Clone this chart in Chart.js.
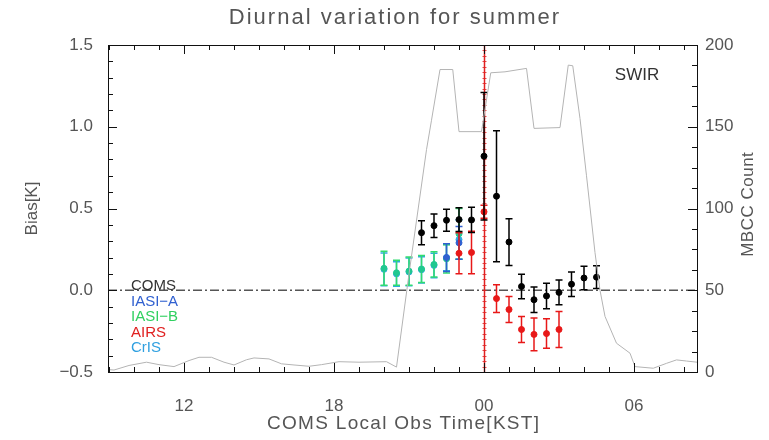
<!DOCTYPE html>
<html>
<head>
<meta charset="utf-8">
<script src="https://cdn.jsdelivr.net/npm/chart.js@4.4.1/dist/chart.umd.min.js"></script>
<style>
html, body { margin: 0; padding: 0; background: #fff; }
</style>
</head>
<body>
<canvas id="chart" width="769" height="440"></canvas>
<script>
// tick labels
const xTickHours = [12, 18, 24, 30];
const xTickLabels = ['12', '18', '00', '06'];
const biasTicks = [-0.5, 0, 0.5, 1.0, 1.5];
const biasTickLabels = ['\u22120.5', '0.0', '0.5', '1.0', '1.5'];
const countTicks = [0, 50, 100, 150, 200];

// series (hour of day, 24 = 00 KST)
const seriesNames = ['COMS', 'IASI\u2212A', 'IASI\u2212B', 'AIRS', 'CrIS'];

const comsHours = [21.5, 22, 22.5, 23, 23.5, 24, 24.5, 25, 25.5, 26, 26.5, 27, 27.5, 28, 28.5];
const comsBias  = [0.352, 0.395, 0.428, 0.432, 0.43, 0.82, 0.575, 0.295, 0.023, -0.058, -0.035, -0.013, 0.037, 0.075, 0.08];
const comsErr   = [0.073, 0.072, 0.067, 0.072, 0.077, 0.39, 0.40, 0.143, 0.075, 0.078, 0.078, 0.076, 0.075, 0.072, 0.07];

const iasiAHours = [22.5, 23];
const iasiABias  = [0.20, 0.29];
const iasiAErr   = [0.085, 0.10];

const iasiBHours = [20, 20.5, 21, 21.5, 22, 22.5, 23];
const iasiBBias  = [0.134, 0.107, 0.117, 0.13, 0.158, 0.192, 0.345];
const iasiBErr   = [0.104, 0.077, 0.087, 0.082, 0.077, 0.087, 0.155];

const airsHours = [23, 23.5, 24, 24.5, 25, 25.5, 26, 26.5, 27];
const airsBias  = [0.226, 0.231, 0.48, -0.051, -0.118, -0.24, -0.27, -0.265, -0.24];
const airsErr   = [0.125, 0.13, 0.04, 0.085, 0.08, 0.08, 0.10, 0.09, 0.11];

const crisHours = [20, 20.5, 21, 21.5, 22, 22.5, 23];
const crisBias  = [0.128, 0.10, 0.112, 0.125, 0.152, 0.20, 0.31];
const crisErr   = [0.10, 0.075, 0.085, 0.08, 0.075, 0.08, 0.12];

// MBCC count (right axis)
const mbccHours = [8.96, 9.2, 9.8, 10.5, 11.0, 11.6, 12.2, 12.6, 13.1, 13.6, 14.0, 14.5, 14.8, 15.4, 15.9, 16.4, 17.0, 17.5, 18.2, 19.0, 20.1, 20.5, 21.0, 21.7, 21.9, 22.24, 22.75, 23.0, 23.9, 24.27, 24.84, 25.7, 26.0, 27.04, 27.37, 27.55, 27.84, 28.1, 28.44, 28.64, 28.84, 29.3, 29.84, 30.04, 30.77, 31.3, 31.7, 32.1, 32.52];
const mbccCount = [1.5, 1.2, 4, 6, 4.5, 3.3, 7, 9, 9, 6, 4.3, 7.5, 8.6, 8, 5, 4.3, 3.5, 4.5, 6.3, 6, 6.3, 3, 60, 136, 154, 185, 185, 147, 147, 183, 183.6, 185.7, 149, 149.5, 187.7, 187.3, 155, 120, 73, 50, 34, 17.6, 11.5, 3.3, 2.3, 5.3, 7.4, 6.7, 6];

const FONT = '"Liberation Sans", Arial, sans-serif';
const GREY = '#555';

function pts(xs, ys) {
    return xs.map((h, i) => ({x: h, y: ys[i]}));
}

function biasSet(name, hours, bias, err, color, pointColor) {
    return {
        label: name,
        data: pts(hours, bias),
        err: err,
        showLine: false,
        pointRadius: 3,
        pointBackgroundColor: pointColor || color,
        pointBorderColor: pointColor || color,
        borderColor: color,
        yAxisID: 'y'
    };
}

// error bars, drawn just before the points of each dataset
const errorBars = {
    id: 'errorBars',
    beforeDatasetDraw(chart, args) {
        const ds = chart.data.datasets[args.index];
        if (!ds.err) return;
        const ctx = chart.ctx;
        const xs = chart.scales.x, ys = chart.scales.y;
        ctx.save();
        ctx.strokeStyle = ds.borderColor;
        ctx.lineWidth = 1.5;
        ds.data.forEach((p, i) => {
            const x = xs.getPixelForValue(p.x);
            const y1 = ys.getPixelForValue(p.y - ds.err[i]);
            const y2 = ys.getPixelForValue(p.y + ds.err[i]);
            ctx.beginPath();
            ctx.moveTo(x, y1); ctx.lineTo(x, y2);
            ctx.moveTo(x - 3.5, y1); ctx.lineTo(x + 3.5, y1);
            ctx.moveTo(x - 3.5, y2); ctx.lineTo(x + 3.5, y2);
            ctx.stroke();
        });
        ctx.restore();
    }
};

function spacedText(ctx, text, x, y, size, spacing) {
    ctx.font = size + 'px ' + FONT;
    if ('letterSpacing' in ctx) {
        ctx.letterSpacing = spacing + 'px';
        x += spacing / 2;
    }
    ctx.fillText(text, x, y);
    if ('letterSpacing' in ctx) ctx.letterSpacing = '0px';
}

const decor = {
    id: 'decor',
    beforeDatasetsDraw(chart) {
        const ctx = chart.ctx, a = chart.chartArea;
        const xs = chart.scales.x, ys = chart.scales.y;
        ctx.save();
        // zero line
        const y0 = ys.getPixelForValue(0);
        ctx.strokeStyle = '#555';
        ctx.lineWidth = 1.3;
        ctx.setLineDash([9, 3, 2, 3]);
        ctx.beginPath(); ctx.moveTo(a.left, y0); ctx.lineTo(a.right, y0); ctx.stroke();
        ctx.setLineDash([]);
        // midnight line with hatch marks
        const xm = Math.round(xs.getPixelForValue(24)) + 0.5;
        ctx.strokeStyle = '#e02020';
        ctx.lineWidth = 1.5;
        ctx.beginPath(); ctx.moveTo(xm, a.top); ctx.lineTo(xm, a.bottom); ctx.stroke();
        ctx.lineWidth = 0.8;
        ctx.beginPath();
        for (let v = -0.5; v <= 1.5; v += 1 / 30) {
            const y = Math.round(ys.getPixelForValue(v)) + 0.5;
            ctx.moveTo(xm - 2, y); ctx.lineTo(xm + 2, y);
        }
        ctx.stroke();
        ctx.restore();
    },
    afterDraw(chart) {
        const ctx = chart.ctx, a = chart.chartArea;
        const xs = chart.scales.x, ys = chart.scales.y, yr = chart.scales.y1;
        ctx.save();
        ctx.strokeStyle = '#111';
        ctx.lineWidth = 1;
        ctx.strokeRect(Math.round(a.left) + 0.5, Math.round(a.top) + 0.5,
            Math.round(a.right - a.left), Math.round(a.bottom - a.top));
        ctx.beginPath();
        // hour ticks top and bottom
        for (let h = 9; h <= 32; h++) {
            const x = Math.round(xs.getPixelForValue(h)) + 0.5;
            const len = h % 6 === 0 ? 9 : 5;
            ctx.moveTo(x, a.bottom); ctx.lineTo(x, a.bottom - len);
            ctx.moveTo(x, a.top); ctx.lineTo(x, a.top + len);
        }
        // bias ticks
        for (let k = -5; k <= 15; k++) {
            const y = Math.round(ys.getPixelForValue(k / 10)) + 0.5;
            const len = k % 5 === 0 ? 9 : 5;
            ctx.moveTo(a.left, y); ctx.lineTo(a.left + len, y);
        }
        // count ticks
        for (let c = 0; c <= 200; c += 12.5) {
            const y = Math.round(yr.getPixelForValue(c)) + 0.5;
            const len = c % 50 === 0 ? 9 : 5;
            ctx.moveTo(a.right, y); ctx.lineTo(a.right - len, y);
        }
        ctx.stroke();

        ctx.fillStyle = GREY;
        ctx.textAlign = 'center';
        ctx.textBaseline = 'middle';
        // main title and x axis title
        spacedText(ctx, 'Diurnal variation for summer', 394, 18, 22, 2);
        spacedText(ctx, 'COMS Local Obs Time[KST]', 403, 424, 19, 1.3);

        // right axis title, reading upwards
        ctx.translate(748, (a.top + a.bottom) / 2 - 4);
        ctx.rotate(-Math.PI / 2);
        spacedText(ctx, 'MBCC Count', 0, 0, 17, 0.5);
        ctx.restore();

        ctx.save();
        ctx.font = '17px ' + FONT;
        ctx.fillStyle = '#333';
        ctx.textAlign = 'center';
        ctx.textBaseline = 'middle';
        ctx.fillText('SWIR', 637, 75);
        // legend
        const legendColors = ['#333', '#3060d0', '#30d060', '#e02020', '#30a0e0'];
        ctx.font = '15px ' + FONT;
        ctx.textAlign = 'left';
        seriesNames.forEach((n, i) => {
            ctx.fillStyle = legendColors[i];
            ctx.fillText(n, 131, 286 + i * 15.5);
        });
        ctx.restore();
    }
};

new Chart(document.getElementById('chart'), {
    type: 'line',
    data: {
        datasets: [
            {
                label: 'MBCC Count',
                data: pts(mbccHours, mbccCount),
                borderColor: '#b4b4b4',
                borderWidth: 1,
                pointRadius: 0,
                yAxisID: 'y1'
            },
            biasSet(seriesNames[0], comsHours, comsBias, comsErr, '#000000'),
            biasSet(seriesNames[3], airsHours, airsBias, airsErr, '#e81818'),
            biasSet(seriesNames[1], iasiAHours, iasiABias, iasiAErr, '#3060d0'),
            biasSet(seriesNames[2], iasiBHours, iasiBBias, iasiBErr, '#30dc70', '#20c890'),
            biasSet(seriesNames[4], crisHours, crisBias, crisErr, '#30a8e0')
        ]
    },
    options: {
        responsive: false,
        animation: false,
        layout: { padding: { left: 22, right: 0, top: 45, bottom: 5 } },
        plugins: {
            legend: { display: false },
            tooltip: { enabled: false },
            title: { display: false }
        },
        scales: {
            x: {
                type: 'linear',
                min: 8.96,
                max: 32.52,
                grid: { display: false },
                border: { display: false },
                afterBuildTicks: s => { s.ticks = xTickHours.map(v => ({value: v})); },
                ticks: {
                    color: GREY,
                    font: { family: FONT, size: 17 },
                    padding: 16,
                    maxRotation: 0,
                    callback: (v, i) => xTickLabels[i]
                },
                afterFit: s => { s.height = 63; }
            },
            y: {
                position: 'left',
                min: -0.5,
                max: 1.5,
                grid: { display: false },
                border: { display: false },
                afterBuildTicks: s => { s.ticks = biasTicks.map(v => ({value: v})); },
                ticks: {
                    color: GREY,
                    font: { family: FONT, size: 17 },
                    padding: 7,
                    callback: (v, i) => biasTickLabels[i]
                },
                title: {
                    display: true,
                    text: 'Bias[K]',
                    color: GREY,
                    font: { family: FONT, size: 17 },
                    padding: 0
                },
                afterFit: s => { s.width = 86; }
            },
            y1: {
                position: 'right',
                min: 0,
                max: 200,
                grid: { display: false },
                border: { display: false },
                afterBuildTicks: s => { s.ticks = countTicks.map(v => ({value: v})); },
                ticks: {
                    color: GREY,
                    font: { family: FONT, size: 17 },
                    padding: 0
                },
                afterFit: s => { s.width = 72; }
            }
        }
    },
    plugins: [errorBars, decor]
});
</script>
</body>
</html>
